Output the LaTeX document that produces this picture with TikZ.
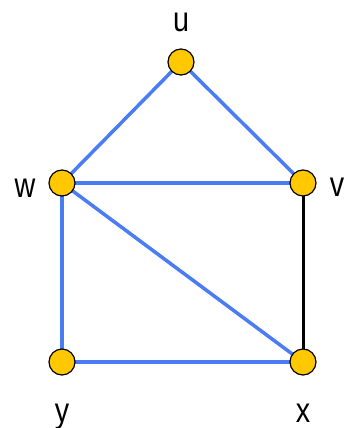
\documentclass[tikz,border=0pt]{standalone}
\usepackage{fontspec}
\setmainfont{Liberation Sans}[FakeStretch=0.82]
\definecolor{vyellow}{HTML}{FFC800}
\definecolor{eblue}{HTML}{4A7CF5}
\begin{document}
\begin{tikzpicture}[x=1pt,y=-1pt,
  vert/.style={circle,draw=black,line width=1.2pt,fill=vyellow,minimum size=26pt,inner sep=0pt},
  lbl/.style={font=\fontsize{35}{40}\selectfont,inner sep=0pt,anchor=base},
  bedge/.style={draw=eblue,line width=3.5pt},
  kedge/.style={draw=black,line width=3pt}]
\useasboundingbox (0,0) rectangle (346,428);
\fill[white] (0,0) rectangle (346,428);
\coordinate (pu) at (181,62);
\coordinate (pw) at (62,183);
\coordinate (pv) at (303,183);
\coordinate (py) at (62,362);
\coordinate (px) at (303,362);
\draw[bedge] (pu) -- (pw);
\draw[bedge] (pu) -- (pv);
\draw[bedge] (pw) -- (pv);
\draw[bedge] (pw) -- (px);
\draw[bedge] (pw) -- (py);
\draw[bedge] (py) -- (px);
\draw[kedge] (pv) -- (px);
\node[vert] (u) at (pu) {};
\node[vert] (w) at (pw) {};
\node[vert] (v) at (pv) {};
\node[vert] (y) at (py) {};
\node[vert] (x) at (px) {};
\node[lbl] (lu) at (181,32) {u};
\node[lbl] (lw) at (25,197) {w};
\node[lbl] (lv) at (337,196) {v};
\node[lbl] (ly) at (62,422) {y};
\node[lbl] (lx) at (303,422) {x};
\end{tikzpicture}
\end{document}
